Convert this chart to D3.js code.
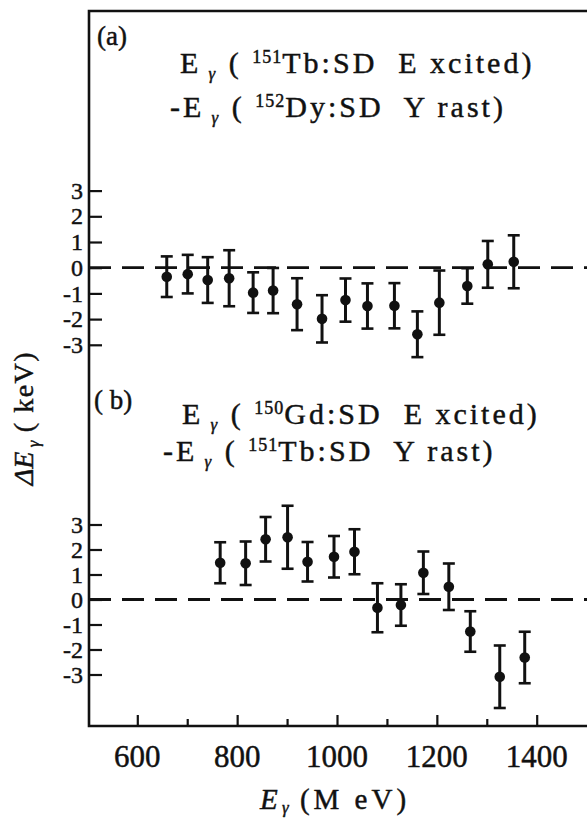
<!DOCTYPE html>
<html>
<head>
<meta charset="utf-8">
<script src="https://cdn.jsdelivr.net/npm/d3@7/dist/d3.min.js"></script>
<style>
  html, body { margin: 0; padding: 0; background: #fff; }
  svg { display: block; }
  text { font-family: "Liberation Serif", "Times New Roman", serif; fill: #111; stroke: #111; stroke-width: 0.45; white-space: pre; }
</style>
</head>
<body>
<svg id="chart" width="587" height="820"></svg>
<script>
// Panel (a): E_γ(151Tb SD excited) − E_γ(152Dy SD yrast)
const energiesA = [659, 701, 741, 784, 832, 872, 920, 970, 1017, 1061, 1115, 1161, 1205, 1261, 1302, 1354];
const deltaA    = [-0.35, -0.25, -0.48, -0.41, -0.97, -0.89, -1.42, -1.99, -1.26, -1.49, -1.48, -2.59, -1.36, -0.71, 0.13, 0.23];
const errA      = [0.79, 0.75, 0.89, 1.09, 0.79, 0.88, 1.01, 0.92, 0.84, 0.88, 0.88, 0.89, 1.25, 0.69, 0.91, 1.03];

// Panel (b): E_γ(150Gd SD excited) − E_γ(151Tb SD yrast)
const energiesB = [766, 817, 857, 901, 941, 994, 1035, 1081, 1128, 1173, 1224, 1267, 1326, 1376];
const deltaB    = [1.47, 1.45, 2.41, 2.49, 1.51, 1.71, 1.91, -0.33, -0.22, 1.07, 0.51, -1.28, -3.09, -2.32];
const errB      = [0.82, 0.87, 0.89, 1.26, 0.79, 0.83, 0.90, 0.98, 0.83, 0.85, 0.93, 0.81, 1.25, 1.03];

const xMajorTicks = [600, 800, 1000, 1200, 1400];
const xMinorTicks = [700, 900, 1100, 1300];
const yTicksA = [3, 2, 1, 0, -1, -2, -3];
const yTicksB = [3, 2, 1, 0, -1, -2, -3];

const svg = d3.select("#chart");
const frameL = 89, frameT = 11, frameB = 726, frameR = 600;

const x = d3.scaleLinear().domain([600, 1400]).range([137.3, 536.7]);
const yA = d3.scaleLinear().domain([-3, 3]).range([267.7 + 3 * 25.7, 267.7 - 3 * 25.7]);
const yB = d3.scaleLinear().domain([-3, 3]).range([599.5 + 3 * 25, 599.5 - 3 * 25]);

// frame: left axis, top border, bottom axis
svg.append("path")
  .attr("d", `M${frameR},${frameT} L${frameL},${frameT} L${frameL},${frameB} L${frameR},${frameB}`)
  .attr("fill", "none").attr("stroke", "#111").attr("stroke-width", 2.6);

// bottom axis ticks (pointing inward)
const xAxis = d3.axisTop(x).tickValues(xMajorTicks).tickSize(11).tickFormat("");
const gx = svg.append("g").attr("transform", `translate(0,${frameB})`).call(xAxis);
gx.select(".domain").remove();
gx.selectAll("line").attr("stroke", "#111").attr("stroke-width", 2.2);
const xAxisMinor = d3.axisTop(x).tickValues(xMinorTicks).tickSize(7).tickFormat("");
const gxm = svg.append("g").attr("transform", `translate(0,${frameB})`).call(xAxisMinor);
gxm.select(".domain").remove();
gxm.selectAll("line").attr("stroke", "#111").attr("stroke-width", 2.2);

svg.append("g").selectAll("text").data(xMajorTicks).join("text")
  .attr("x", d => x(d)).attr("y", 767)
  .attr("text-anchor", "middle").attr("font-size", 31)
  .text(d => d);

// x title
const xt = svg.append("text").attr("x", 260).attr("y", 809).attr("font-size", 29);
xt.append("tspan").attr("font-style", "italic").text("E");
xt.append("tspan").attr("font-style", "italic").attr("font-size", 17).attr("dy", 4).text(" γ");
xt.append("tspan").attr("dy", -4).attr("letter-spacing", 4).text(" (M eV)");

// y axes for each panel
function yPanel(y, ticks) {
  const ax = d3.axisRight(y).tickValues(ticks).tickSize(13).tickFormat("");
  const g = svg.append("g").attr("transform", `translate(${frameL},0)`).call(ax);
  g.select(".domain").remove();
  g.selectAll("line").attr("stroke", "#111").attr("stroke-width", 2.2);
  svg.append("g").selectAll("text").data(ticks).join("text")
    .attr("x", 83).attr("y", d => y(d)).attr("dy", "0.34em")
    .attr("text-anchor", "end").attr("font-size", 24)
    .text(d => d < 0 ? "-" + Math.abs(d) : d);
  // dashed zero line
  svg.append("line")
    .attr("x1", frameL).attr("x2", frameR).attr("y1", y(0)).attr("y2", y(0))
    .attr("stroke", "#111").attr("stroke-width", 2.8).attr("stroke-dasharray", "22,11");
}
yPanel(yA, yTicksA);
yPanel(yB, yTicksB);

// data points with error bars
function points(E, v, e, y) {
  const data = E.map((d, i) => ({ e: d, v: v[i], err: e[i] }));
  const g = svg.append("g").attr("stroke", "#111").attr("fill", "#111");
  const pt = g.selectAll("g").data(data).join("g");
  pt.append("line").attr("x1", d => x(d.e)).attr("x2", d => x(d.e))
    .attr("y1", d => y(d.v + d.err)).attr("y2", d => y(d.v - d.err)).attr("stroke-width", 3);
  pt.append("line").attr("x1", d => x(d.e) - 6).attr("x2", d => x(d.e) + 6)
    .attr("y1", d => y(d.v + d.err)).attr("y2", d => y(d.v + d.err)).attr("stroke-width", 2.6);
  pt.append("line").attr("x1", d => x(d.e) - 6).attr("x2", d => x(d.e) + 6)
    .attr("y1", d => y(d.v - d.err)).attr("y2", d => y(d.v - d.err)).attr("stroke-width", 2.6);
  pt.append("circle").attr("cx", d => x(d.e)).attr("cy", d => y(d.v)).attr("r", 5.3).attr("stroke", "none");
}
points(energiesA, deltaA, errA, yA);
points(energiesB, deltaB, errB, yB);

// panel labels and reaction annotations
svg.append("text").attr("x", 97).attr("y", 45).attr("font-size", 27).text("(a)");
svg.append("text").attr("x", 94).attr("y", 409).attr("font-size", 27).text("( b)");

function reaction(xPos, yPos, prefix, mass, rest) {
  const t = svg.append("text").attr("x", xPos).attr("y", yPos)
    .attr("font-size", 30).attr("letter-spacing", 3);
  t.append("tspan").text(prefix + "E");
  t.append("tspan").attr("font-style", "italic").attr("font-size", 17).attr("dy", 6).text(" γ");
  t.append("tspan").attr("dy", -6).text(" ( ");
  t.append("tspan").attr("font-size", 18).attr("letter-spacing", 1).attr("dy", -10).text(mass);
  t.append("tspan").attr("dy", 10).text(rest);
  return t;
}
reaction(180, 73, "", "151", "Tb:SD  E xcited)");
reaction(170, 117, "-", "152", "Dy:SD  Y rast)");
reaction(182, 424, "", "150", "Gd:SD  E xcited)");
reaction(163, 461, "-", "151", "Tb:SD  Y rast)");

// y title
const yt = svg.append("text").attr("transform", "translate(33,418) rotate(-90)")
  .attr("text-anchor", "middle").attr("font-size", 28);
yt.append("tspan").attr("font-style", "italic").text("ΔE");
yt.append("tspan").attr("font-style", "italic").attr("font-size", 17).attr("dy", 6).text(" γ");
yt.append("tspan").attr("dy", -6).attr("letter-spacing", 1.5).text(" ( keV)");
</script>
</body>
</html>
